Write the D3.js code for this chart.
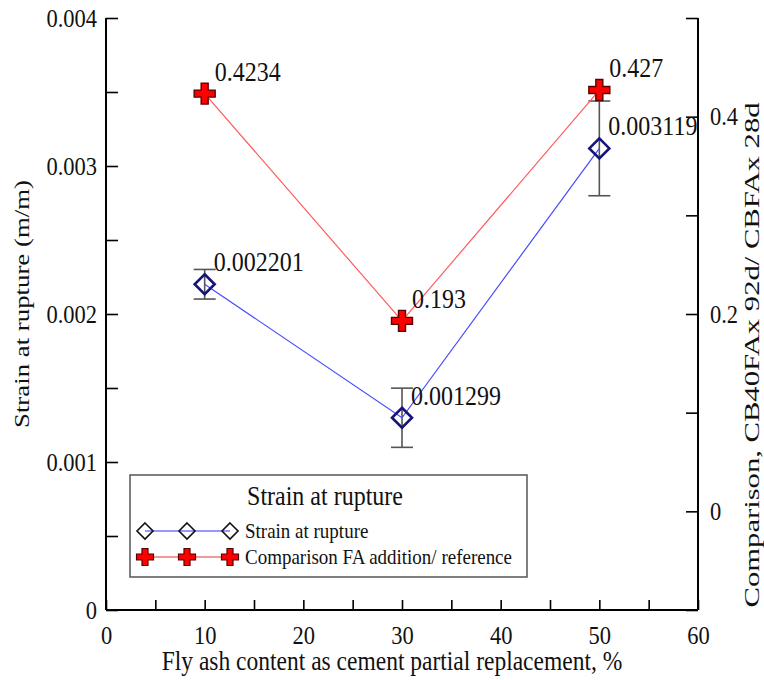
<!DOCTYPE html>
<html>
<head>
<meta charset="utf-8">
<script src="https://cdn.jsdelivr.net/npm/d3@7"></script>
<style>
  html, body { margin: 0; padding: 0; background: #fff; }
</style>
</head>
<body>
<svg id="chart" width="764" height="680"></svg>
<script>
// Fly ash replacement levels (%)
const flyAsh = [10, 30, 50];
// Strain at rupture (m/m) and its error half-width
const strain = [0.002201, 0.001299, 0.003119];
const strainErr = [0.0001, 0.0002, 0.00032];
const strainLabels = ["0.002201", "0.001299", "0.003119"];
// Ratio CB40FAx 92d / CBFAx 28d
const comparison = [0.4234, 0.193, 0.427];
const comparisonLabels = ["0.4234", "0.193", "0.427"];

// Axis ticks and labels
const xTickValues = [0, 5, 10, 15, 20, 25, 30, 35, 40, 45, 50, 55, 60];
const xTickLabels = ["0", "10", "20", "30", "40", "50", "60"];
const yLeftTickValues = [0, 0.0005, 0.001, 0.0015, 0.002, 0.0025, 0.003, 0.0035, 0.004];
const yLeftTickLabels = ["0", "0.001", "0.002", "0.003", "0.004"];
const yRightTickValues = [-0.1, 0, 0.1, 0.2, 0.3, 0.4, 0.5];
const yRightTickLabels = ["0", "0.2", "0.4"];

const FONT = '"Liberation Serif", "Times New Roman", serif';
const TALL = 1.12; // glyphs are drawn a little taller than wide
const svg = d3.select("#chart");
const plotLeft = 106, plotRight = 698, plotTop = 18, plotBottom = 610;

const x = d3.scaleLinear().domain([0, 60]).range([plotLeft, plotRight]);
const yL = d3.scaleLinear().domain([0, 0.004]).range([plotBottom, plotTop]);
const yR = d3.scaleLinear().domain([-0.1, 0.5]).range([plotBottom, plotTop]);

// Set a text's size so its height is size*TALL while its width stays that of size
function tallText(sel, size) {
  sel.style("font-family", FONT).style("font-size", (size * TALL) + "px")
    .each(function () {
      const w = this.getComputedTextLength();
      if (w > 0) d3.select(this).attr("textLength", w / TALL).attr("lengthAdjust", "spacingAndGlyphs");
    });
}

// Only label the ticks that appear in the label list; the rest are minor ticks
function labelFrom(list) {
  return v => list.find(s => Math.abs(parseFloat(s) - v) < 1e-9) || "";
}

// Axes with inward ticks
const gx = svg.append("g").attr("transform", `translate(0,${plotBottom})`)
  .call(d3.axisBottom(x).tickValues(xTickValues).tickSize(-10).tickPadding(16)
    .tickFormat(labelFrom(xTickLabels)));
const gl = svg.append("g").attr("transform", `translate(${plotLeft},0)`)
  .call(d3.axisLeft(yL).tickValues(yLeftTickValues).tickSize(-12).tickPadding(9)
    .tickFormat(labelFrom(yLeftTickLabels)));
const gr = svg.append("g").attr("transform", `translate(${plotRight},0)`)
  .call(d3.axisRight(yR).tickValues(yRightTickValues).tickSize(-12).tickPadding(12)
    .tickFormat(labelFrom(yRightTickLabels)));

[gx, gl, gr].forEach(g => {
  g.select(".domain").attr("stroke", "#000").attr("stroke-width", 2);
  g.selectAll(".tick line").attr("stroke", "#000").attr("stroke-width", 1.6);
  g.selectAll(".tick text").attr("fill", "#111").call(tallText, 22.5);
});
gx.select(".domain").attr("d", `M${plotLeft},0H${plotRight}`);
gl.select(".domain").attr("d", `M0,${plotBottom}V${plotTop}`);
gr.select(".domain").attr("d", `M0,${plotBottom}V${plotTop}`);

// Axis titles
svg.append("text")
  .attr("x", 392).attr("y", 670).attr("text-anchor", "middle").attr("fill", "#111")
  .text("Fly ash content as cement partial replacement, %")
  .call(tallText, 23.5);
svg.append("text")
  .attr("transform", "translate(29,304) rotate(-90)")
  .attr("text-anchor", "middle").attr("fill", "#111")
  .style("font-family", FONT).style("font-size", "22px")
  .attr("textLength", 248).attr("lengthAdjust", "spacingAndGlyphs")
  .text("Strain at rupture (m/m)");
svg.append("text")
  .attr("transform", "translate(759,355) rotate(-90)")
  .attr("text-anchor", "middle").attr("fill", "#111")
  .style("font-family", FONT).style("font-size", "22px")
  .attr("textLength", 505).attr("lengthAdjust", "spacingAndGlyphs")
  .text("Comparison, CB40FAx 92d/ CBFAx 28d");

// Error bars on strain
const eb = svg.append("g").attr("stroke", "#555").attr("stroke-width", 1.6);
flyAsh.forEach((f, i) => {
  const cx = x(f), y1 = yL(strain[i] + strainErr[i]), y2 = yL(strain[i] - strainErr[i]);
  eb.append("line").attr("x1", cx).attr("x2", cx).attr("y1", y1).attr("y2", y2);
  eb.append("line").attr("x1", cx - 11).attr("x2", cx + 11).attr("y1", y1).attr("y2", y1);
  eb.append("line").attr("x1", cx - 11).attr("x2", cx + 11).attr("y1", y2).attr("y2", y2);
});

// Series lines
const strainLine = d3.line().x((d, i) => x(flyAsh[i])).y(d => yL(d));
const compLine = d3.line().x((d, i) => x(flyAsh[i])).y(d => yR(d));
svg.append("path").attr("d", strainLine(strain)).attr("fill", "none")
  .attr("stroke", "#4a4aff").attr("stroke-width", 1.2);
svg.append("path").attr("d", compLine(comparison)).attr("fill", "none")
  .attr("stroke", "#ff5c5c").attr("stroke-width", 1.2);

// Marker shapes
function diamondPath(r) { return `M0,${-r}L${r},0L0,${r}L${-r},0Z`; }
function plusPath(a, t) {
  return `M${-t},${-a}H${t}V${-t}H${a}V${t}H${t}V${a}H${-t}V${t}H${-a}V${-t}H${-t}Z`;
}

svg.append("g").selectAll("path").data(strain).join("path")
  .attr("transform", (d, i) => `translate(${x(flyAsh[i])},${yL(d)})`)
  .attr("d", diamondPath(10)).attr("fill", "none")
  .attr("stroke", "#14147a").attr("stroke-width", 2.6);
svg.append("g").selectAll("path").data(comparison).join("path")
  .attr("transform", (d, i) => `translate(${x(flyAsh[i])},${yR(d)})`)
  .attr("d", plusPath(10.5, 3.5)).attr("fill", "#ff0000")
  .attr("stroke", "#5a0000").attr("stroke-width", 1.4);

// Value labels
const lab = svg.append("g").attr("fill", "#111");
flyAsh.forEach((f, i) => {
  lab.append("text").attr("x", x(f) + 10).attr("y", yR(comparison[i]) - 13)
    .text(comparisonLabels[i]).call(tallText, 24);
  lab.append("text").attr("x", x(f) + 9).attr("y", yL(strain[i]) - 13)
    .text(strainLabels[i]).call(tallText, 24);
});

// Legend
const lg = svg.append("g");
lg.append("rect").attr("x", 130).attr("y", 475).attr("width", 397).attr("height", 102)
  .attr("fill", "#fff").attr("stroke", "#555").attr("stroke-width", 1.5);
lg.append("text").attr("x", 325).attr("y", 505).attr("text-anchor", "middle")
  .attr("fill", "#111").text("Strain at rupture").call(tallText, 24);
const legendXs = [145, 187, 230];
lg.append("line").attr("x1", legendXs[0]).attr("x2", legendXs[2]).attr("y1", 531).attr("y2", 531)
  .attr("stroke", "#3030ff").attr("stroke-width", 1.2);
lg.append("line").attr("x1", legendXs[0]).attr("x2", legendXs[2]).attr("y1", 557).attr("y2", 557)
  .attr("stroke", "#f29a9a").attr("stroke-width", 2);
legendXs.forEach(lx => {
  lg.append("path").attr("transform", `translate(${lx},531)`).attr("d", diamondPath(8))
    .attr("fill", "none").attr("stroke", "#111").attr("stroke-width", 1.6);
  lg.append("path").attr("transform", `translate(${lx},557)`).attr("d", plusPath(8.5, 3))
    .attr("fill", "#ff0000").attr("stroke", "#5a0000").attr("stroke-width", 1.2);
});
lg.append("text").attr("x", 245).attr("y", 538).attr("fill", "#111")
  .text("Strain at rupture").call(tallText, 19);
lg.append("text").attr("x", 245).attr("y", 564).attr("fill", "#111")
  .text("Comparison FA addition/ reference").call(tallText, 19);
</script>
</body>
</html>
